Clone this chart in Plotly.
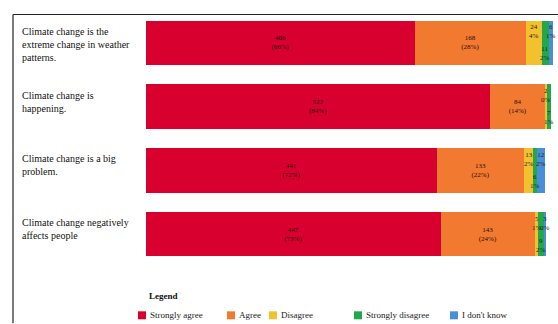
import plotly.graph_objects as go

statements = [
    "Climate change is the<br>extreme change in weather<br>patterns.",
    "Climate change is<br>happening.",
    "Climate change is a big<br>problem.",
    "Climate change negatively<br>affects people",
]
series_names = ["Strongly agree", "Agree", "Disagree", "Strongly disagree", "I don't know"]
strongly_agree = [408, 522, 441, 447]
agree = [168, 84, 133, 143]
disagree = [24, 2, 13, 5]
strongly_disagree = [11, 7, 6, 9]
dont_know = [6, 0, 12, 3]
pct_strongly_agree = [66, 84, 72, 73]
pct_agree = [28, 14, 22, 24]
pct_disagree = [4, 0, 2, 1]
pct_strongly_disagree = [2, 1, 1, 2]
pct_dont_know = [1, 0, 2, 0]
colors = ["#D8002E", "#F27A30", "#F3C02E", "#22A84C", "#4A8EDA"]

values = [strongly_agree, agree, disagree, strongly_disagree, dont_know]
pcts = [pct_strongly_agree, pct_agree, pct_disagree, pct_strongly_disagree, pct_dont_know]
ypos = list(range(len(statements)))

SERIF = "Liberation Serif, Times New Roman, serif"
W, H = 558, 324
L, R, T, B = 146, 0, 10.5, 57.5
pw, ph = W - L - R, H - T - B

def px(x):
    return (x - L) / pw

def py(y):
    return (H - B - y) / ph

fig = go.Figure()
for k in range(5):
    big = k < 2
    fig.add_trace(go.Bar(
        y=ypos, x=values[k], name=series_names[k], orientation="h",
        marker=dict(color=colors[k], line=dict(width=0)),
        width=0.70,
        text=[f"{v}<br>({p}%)" for v, p in zip(values[k], pcts[k])] if big else None,
        textposition="inside" if big else "none",
        insidetextanchor="middle",
        textfont=dict(family=SERIF, size=7, color="#2a0c0c"),
        showlegend=False, hoverinfo="skip",
    ))

annotations = []
# small segment labels
for i in ypos:
    cum = strongly_agree[i] + agree[i]
    for k in (2, 3, 4):
        v = values[k][i]
        if v > 0:
            up = k in (2, 4)
            annotations.append(dict(
                x=cum + v / 2, y=i, xref="x", yref="y",
                text=f"{v}<br>{pcts[k][i]}%", showarrow=False,
                yshift=11 if up else -11,
                font=dict(family=SERIF, size=7, color="#222"),
                align="center",
            ))
        cum += v

# statement labels
for i, s in enumerate(statements):
    annotations.append(dict(
        x=px(20), y=i, xref="paper", yref="y", xanchor="left", yanchor="top",
        yshift=19, text=s, showarrow=False, align="left",
        font=dict(family=SERIF, size=10, color="#111"),
    ))

# legend (drawn manually)
annotations.append(dict(
    x=px(147), y=py(297), xref="paper", yref="paper", xanchor="left", yanchor="middle",
    text="<b>Legend</b>", showarrow=False, font=dict(family=SERIF, size=9, color="#111"),
))
leg_x = [138, 227, 269, 354, 450]
shapes = []
for k, name in enumerate(series_names):
    x0 = leg_x[k]
    shapes.append(dict(type="rect", xref="paper", yref="paper",
                       x0=px(x0), x1=px(x0 + 8), y0=py(320), y1=py(312),
                       fillcolor=colors[k], line=dict(width=0)))
    annotations.append(dict(
        x=px(x0 + 10), y=py(316), xref="paper", yref="paper", xanchor="left", yanchor="middle",
        text=name, showarrow=False, font=dict(family=SERIF, size=9, color="#222"),
    ))

# frame lines
shapes.append(dict(type="line", xref="paper", yref="paper",
                   x0=px(13), x1=px(13), y0=py(14), y1=py(324),
                   line=dict(color="#222", width=1.2)))
shapes.append(dict(type="line", xref="paper", yref="paper",
                   x0=px(13), x1=px(558), y0=py(14), y1=py(14),
                   line=dict(color="#222", width=1.2)))

fig.update_layout(
    width=W, height=H, barmode="stack",
    margin=dict(l=L, r=R, t=T, b=B, pad=0),
    paper_bgcolor="white", plot_bgcolor="white",
    xaxis=dict(range=[0, 625], visible=False, fixedrange=True),
    yaxis=dict(range=[3.5, -0.5], visible=False, fixedrange=True),
    annotations=annotations, shapes=shapes,
    uniformtext=dict(minsize=7, mode="show"),
    showlegend=False,
)
fig.write_html("out.html")
